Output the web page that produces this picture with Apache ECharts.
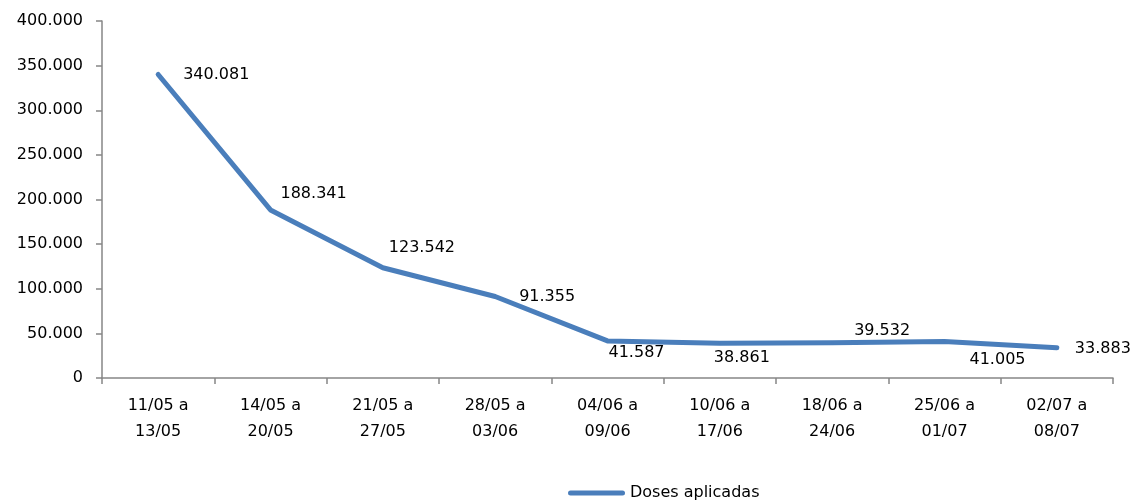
<!DOCTYPE html>
<html>
<head>
<meta charset="utf-8">
<script src="https://cdn.jsdelivr.net/npm/echarts@6/dist/echarts.min.js"></script>
<style>html,body{margin:0;padding:0;background:#fff}#c{width:1139px;height:500px}</style>
</head>
<body>
<div id="c"></div>
<script>
var categories = ['11/05 a\n13/05','14/05 a\n20/05','21/05 a\n27/05','28/05 a\n03/06','04/06 a\n09/06','10/06 a\n17/06','18/06 a\n24/06','25/06 a\n01/07','02/07 a\n08/07'];
var doses = [340081, 188341, 123542, 91355, 41587, 38861, 39532, 41005, 33883];
var yTicks = {min: 0, max: 400000, interval: 50000};
var seriesName = 'Doses aplicadas';
// label placement offsets (style only)
var labelOffsets = [[19,0],[4,-16],[0,-20],[18,0],[-5,12],[-12,15],[16,-12],[19,18],[12,1]];

function fmt(v){
  return String(Math.round(v)).replace(/\B(?=(\d{3})+(?!\d))/g, '.');
}
var FONT = 'DejaVu Sans';
var FS = 16;
var COLOR = '#4a7ebb';
var chart = echarts.init(document.getElementById('c'), null, {renderer:'canvas'});
chart.setOption({
  animation: false,
  textStyle: {fontFamily: FONT},
  grid: {left: 102, right: 26, top: 21, bottom: 122, containLabel: false},
  legend: {
    left: 563, top: 480,
    itemWidth: 57, itemHeight: 5, itemGap: 4,
    icon: 'path://M2.5,0 L54.5,0 A2.5,2.5 0 0 1 54.5,5 L2.5,5 A2.5,2.5 0 0 1 2.5,0 Z',
    itemStyle: {color: COLOR},
    textStyle: {fontFamily: FONT, fontSize: FS, color: '#000'},
    data: [seriesName]
  },
  xAxis: {
    type: 'category',
    data: categories,
    boundaryGap: true,
    axisLine: {lineStyle: {color: '#868686', width: 1.5}},
    axisTick: {show: true, length: 6, lineStyle: {color: '#868686', width: 1.5}},
    axisLabel: {color: '#000', fontSize: FS, lineHeight: 26, margin: 15, interval: 0, fontFamily: FONT}
  },
  yAxis: {
    type: 'value',
    min: yTicks.min, max: yTicks.max, interval: yTicks.interval,
    splitLine: {show: false},
    axisLine: {show: true, lineStyle: {color: '#868686', width: 1.5}},
    axisTick: {show: true, length: 6, lineStyle: {color: '#868686', width: 1.5}},
    axisLabel: {color: '#000', fontSize: FS, margin: 19, formatter: fmt, fontFamily: FONT}
  },
  series: [{
    name: seriesName,
    type: 'line',
    data: doses.map(function(v, i){
      return {value: v, label: {offset: labelOffsets[i]}};
    }),
    showSymbol: true,
    symbol: 'circle',
    symbolSize: 2,
    lineStyle: {color: COLOR, width: 5, cap: 'round', join: 'round'},
    itemStyle: {color: COLOR},
    label: {
      show: true, position: 'right', distance: 5,
      color: '#000', fontSize: FS, fontFamily: FONT,
      formatter: function(p){ return fmt(p.value); }
    },
    emphasis: {disabled: true}
  }]
});
</script>
</body>
</html>
